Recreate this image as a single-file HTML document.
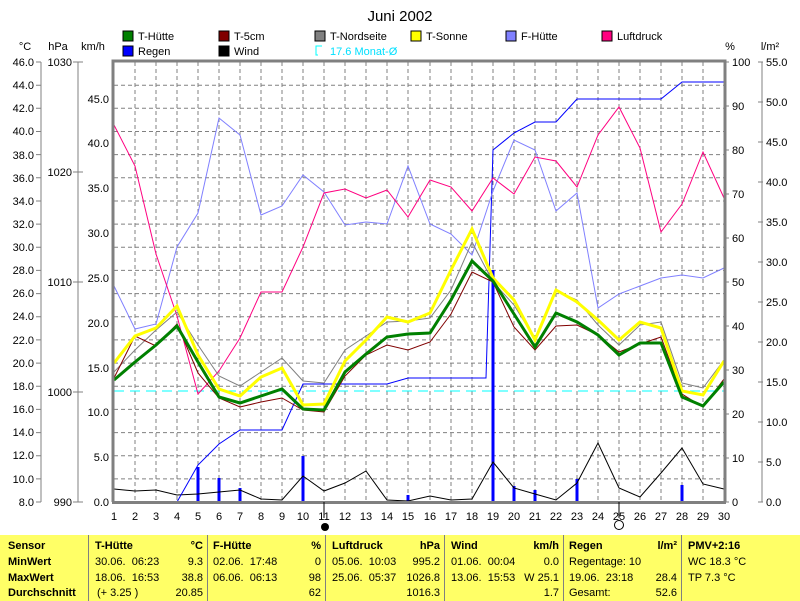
<!DOCTYPE html>
<html><head><meta charset="utf-8"><style>
html,body{margin:0;padding:0;background:#fff;}
body{width:800px;height:601px;position:relative;overflow:hidden;font-family:"Liberation Sans",sans-serif;}
svg{position:absolute;left:0;top:0;}
svg text{font-family:"Liberation Sans",sans-serif;font-size:11px;fill:#000;}
.tb{position:absolute;left:0;top:535px;width:800px;height:66px;background:#ffff66;font-size:11px;}
.tb div{position:absolute;white-space:pre;}
.b{font-weight:bold;}
.sep{width:1px;top:0;height:66px;background:#808080;}
</style></head><body>
<svg width="800" height="601" viewBox="0 0 800 601">
<text x="400" y="21" text-anchor="middle" style="font-size:15px">Juni 2002</text>
<!-- legend -->
<rect x="123" y="31" width="10" height="10" fill="#008000" stroke="#000"/><text x="138" y="40">T-Hütte</text>
<rect x="219" y="31" width="10" height="10" fill="#800000" stroke="#000"/><text x="234" y="40">T-5cm</text>
<rect x="315" y="31" width="10" height="10" fill="#808080" stroke="#000"/><text x="330" y="40">T-Nordseite</text>
<rect x="411" y="31" width="10" height="10" fill="#ffff00" stroke="#000"/><text x="426" y="40">T-Sonne</text>
<rect x="506" y="31" width="10" height="10" fill="#8080ff" stroke="#000"/><text x="521" y="40">F-Hütte</text>
<rect x="602" y="31" width="10" height="10" fill="#ff0080" stroke="#000"/><text x="617" y="40">Luftdruck</text>
<rect x="123" y="46" width="10" height="10" fill="#0000ff" stroke="#000"/><text x="138" y="55">Regen</text>
<rect x="219" y="46" width="10" height="10" fill="#000" stroke="#000"/><text x="234" y="55">Wind</text>
<path d="M322,46 h-6 v9 h2" fill="none" stroke="#00ffff"/><text x="330" y="55" style="fill:#00e0ff">17.6 Monat-Ø</text>
<text x="25" y="50" text-anchor="middle">°C</text>
<text x="58" y="50" text-anchor="middle">hPa</text>
<text x="93" y="50" text-anchor="middle">km/h</text>
<text x="730" y="50" text-anchor="middle">%</text>
<text x="770" y="50" text-anchor="middle">l/m²</text>
<!-- left axes -->
<g stroke="#808080" fill="none">
<line x1="41" y1="62" x2="41" y2="502"/>
<line x1="78" y1="62" x2="78" y2="502"/>
<line x1="762" y1="62" x2="762" y2="502"/>
</g>
<g text-anchor="end">
<text x="34" y="66">46.0</text><text x="34" y="89">44.0</text><text x="34" y="112">42.0</text><text x="34" y="135">40.0</text><text x="34" y="159">38.0</text><text x="34" y="182">36.0</text><text x="34" y="205">34.0</text><text x="34" y="228">32.0</text><text x="34" y="251">30.0</text><text x="34" y="274">28.0</text><text x="34" y="297">26.0</text><text x="34" y="320">24.0</text><text x="34" y="344">22.0</text><text x="34" y="367">20.0</text><text x="34" y="390">18.0</text><text x="34" y="413">16.0</text><text x="34" y="436">14.0</text><text x="34" y="459">12.0</text><text x="34" y="483">10.0</text><text x="34" y="506">8.0</text>
<text x="72" y="66">1030</text><text x="72" y="176">1020</text><text x="72" y="286">1010</text><text x="72" y="396">1000</text><text x="72" y="506">990</text>
<text x="109" y="103">45.0</text><text x="109" y="147">40.0</text><text x="109" y="192">35.0</text><text x="109" y="237">30.0</text><text x="109" y="282">25.0</text><text x="109" y="327">20.0</text><text x="109" y="372">15.0</text><text x="109" y="416">10.0</text><text x="109" y="461">5.0</text><text x="109" y="506">0.0</text>
</g>
<g stroke="#808080">
<path d="M36,62h5M36,85.2h5M36,108.3h5M36,131.5h5M36,154.6h5M36,177.8h5M36,201h5M36,224.1h5M36,247.3h5M36,270.4h5M36,293.6h5M36,316.8h5M36,339.9h5M36,363.1h5M36,386.2h5M36,409.4h5M36,432.6h5M36,455.7h5M36,478.9h5M36,502h5"/>
<path d="M73,62h10M73,172h10M73,282h10M73,392h10M73,502h10"/>
<path d="M724,62h5M724,106h5M724,150h5M724,194h5M724,238h5M724,282h5M724,326h5M724,370h5M724,414h5M724,458h5M724,502h5"/>
<path d="M758,62h5M758,102h5M758,142h5M758,182h5M758,222h5M758,262h5M758,302h5M758,342h5M758,382h5M758,422h5M758,462h5M758,502h5"/>
</g>
<g>
<text x="732" y="66">100</text><text x="732" y="110">90</text><text x="732" y="154">80</text><text x="732" y="198">70</text><text x="732" y="242">60</text><text x="732" y="286">50</text><text x="732" y="330">40</text><text x="732" y="374">30</text><text x="732" y="418">20</text><text x="732" y="462">10</text><text x="732" y="506">0</text>
<text x="766" y="66">55.0</text><text x="766" y="106">50.0</text><text x="766" y="146">45.0</text><text x="766" y="186">40.0</text><text x="766" y="226">35.0</text><text x="766" y="266">30.0</text><text x="766" y="306">25.0</text><text x="766" y="346">20.0</text><text x="766" y="386">15.0</text><text x="766" y="426">10.0</text><text x="766" y="466">5.0</text><text x="766" y="506">0.0</text>
</g>
<!-- grid -->
<g stroke="#808080" stroke-dasharray="4,3" fill="none">
<path d="M135,62V502M156,62V502M177,62V502M198,62V502M219,62V502M240,62V502M261,62V502M282,62V502M303,62V502M324,62V502M345,62V502M366,62V502M387,62V502M408,62V502M430,62V502M451,62V502M472,62V502M493,62V502M514,62V502M535,62V502M556,62V502M577,62V502M598,62V502M619,62V502M640,62V502M661,62V502M682,62V502M703,62V502"/>
<path d="M114,85.2H724M114,108.3H724M114,131.5H724M114,154.6H724M114,177.8H724M114,201H724M114,224.1H724M114,247.3H724M114,270.4H724M114,293.6H724M114,316.8H724M114,339.9H724M114,363.1H724M114,386.2H724M114,409.4H724M114,432.6H724M114,455.7H724M114,478.9H724"/>
</g>
<line x1="114" y1="391" x2="724" y2="391" stroke="#00ffff" stroke-dasharray="10,6"/>
<!-- rain bars -->
<g stroke="#0000ff" stroke-width="3">
<path d="M198,502V467M219,502V478M240,502V488M303,502V456M408,502V495M493,502V270M514,502V486M535,502V490M577,502V479M682,502V485"/>
</g>
<!-- wind -->
<polyline fill="none" stroke="#000" points="114,489 135,491 156,490 177,495 198,494 219,492 240,490 261,499 282,500 303,476 324,491 345,483 366,471 387,500 408,501 430,496 451,500 472,499 493,462 514,488 535,494 556,500 577,483 598,443 619,488 640,497 661,473 682,448 703,484 724,489"/>
<!-- rain cumulative -->
<polyline fill="none" stroke="#0000ff" points="177,502 198,465 219,444 240,430 261,430 282,430 303,384 324,384 345,384 366,384 387,384 408,378 430,378 451,378 472,378 486,378 493,150 514,133 535,122 556,122 577,99 598,99 619,99 640,99 661,99 682,82 703,82 724,82"/>
<!-- F-Hütte -->
<polyline fill="none" stroke="#8080ff" points="114,286 135,329 156,324 177,247 198,213 219,118 240,135 261,215 282,206 303,175 324,192 345,225 366,222 387,224 408,166 430,224 451,234 472,255 493,191 514,140 535,150 556,211 577,193 598,308 619,294 640,286 661,278 682,275 703,278 724,268"/>
<!-- Luftdruck -->
<polyline fill="none" stroke="#ff0080" points="114,125 135,166 156,254 177,316 198,394 219,371 240,338 261,292 282,292 303,247 324,193 345,189 366,198 387,190 408,217 430,180 451,187 472,211 493,178 514,194 535,157 556,161 577,187 598,135 619,107 640,148 661,232 682,204 703,152 724,198"/>
<!-- T-Nordseite -->
<polyline fill="none" stroke="#808080" points="114,372 135,350 156,330 177,312 198,345 219,376 240,386 261,372 282,358 303,381 324,383 345,350 366,336 387,322 408,321 430,318 451,290 472,242 493,282 514,305 535,339 556,291 577,300 598,325 619,345 640,325 661,322 682,383 703,388 724,360"/>
<!-- T-5cm -->
<polyline fill="none" stroke="#800000" points="114,378 135,336 156,346 177,324 198,373 219,398 240,407 261,402 282,398 303,410 324,412 345,376 366,355 387,345 408,350 430,342 451,314 472,272 493,282 514,327 535,350 556,326 577,325 598,335 619,352 640,344 661,337 682,394 703,407 724,379"/>
<!-- T-Sonne -->
<polyline fill="none" stroke="#ffff00" stroke-width="3" points="114,363 135,336 156,328 177,306 198,355 219,389 240,396 261,377 282,368 303,405 324,404 345,361 366,340 387,317 408,322 430,313 451,270 472,229 493,278 514,300 535,340 556,290 577,302 598,320 619,340 640,322 661,328 682,391 703,395 724,361"/>
<!-- T-Hütte -->
<polyline fill="none" stroke="#008000" stroke-width="3" points="114,380 135,362 156,345 177,326 198,362 219,397 240,403 261,396 282,389 303,409 324,410 345,372 366,354 387,337 408,334 430,333 451,300 472,261 493,281 514,314 535,347 556,313 577,322 598,335 619,355 640,343 661,343 682,397 703,406 724,382"/>
<!-- frame -->
<path d="M113,502V61H725V502" fill="none" stroke="#808080" stroke-width="3"/>
<line x1="112" y1="502.5" x2="726" y2="502.5" stroke="#808080" stroke-width="3"/>
<g stroke="#000"><path d="M324,502v16M619,502v16"/></g>
<circle cx="325" cy="527" r="4" fill="#000"/>
<circle cx="619" cy="525" r="4.5" fill="none" stroke="#000"/>
<g text-anchor="middle">
<text x="114" y="520">1</text><text x="135" y="520">2</text><text x="156" y="520">3</text><text x="177" y="520">4</text><text x="198" y="520">5</text><text x="219" y="520">6</text><text x="240" y="520">7</text><text x="261" y="520">8</text><text x="282" y="520">9</text><text x="303" y="520">10</text><text x="324" y="520">11</text><text x="345" y="520">12</text><text x="366" y="520">13</text><text x="387" y="520">14</text><text x="408" y="520">15</text><text x="430" y="520">16</text><text x="451" y="520">17</text><text x="472" y="520">18</text><text x="493" y="520">19</text><text x="514" y="520">20</text><text x="535" y="520">21</text><text x="556" y="520">22</text><text x="577" y="520">23</text><text x="598" y="520">24</text><text x="619" y="520">25</text><text x="640" y="520">26</text><text x="661" y="520">27</text><text x="682" y="520">28</text><text x="703" y="520">29</text><text x="724" y="520">30</text>
</g>
</svg>
<div class="tb">
<div class="sep" style="left:88px"></div><div class="sep" style="left:207px"></div><div class="sep" style="left:325px"></div><div class="sep" style="left:444px"></div><div class="sep" style="left:563px"></div><div class="sep" style="left:681px"></div>
<div class="b" style="left:8px;top:5px">Sensor</div>
<div class="b" style="left:8px;top:21px">MinWert</div>
<div class="b" style="left:8px;top:37px">MaxWert</div>
<div class="b" style="left:8px;top:52px">Durchschnitt</div>

<div class="b" style="left:95px;top:5px">T-Hütte</div><div class="b" style="right:597px;top:5px">°C</div>
<div style="left:95px;top:21px">30.06.  06:23</div><div style="right:597px;top:21px">9.3</div>
<div style="left:95px;top:37px">18.06.  16:53</div><div style="right:597px;top:37px">38.8</div>
<div style="left:97px;top:52px">(+ 3.25 )</div><div style="right:597px;top:52px">20.85</div>

<div class="b" style="left:213px;top:5px">F-Hütte</div><div class="b" style="right:479px;top:5px">%</div>
<div style="left:213px;top:21px">02.06.  17:48</div><div style="right:479px;top:21px">0</div>
<div style="left:213px;top:37px">06.06.  06:13</div><div style="right:479px;top:37px">98</div>
<div style="right:479px;top:52px">62</div>

<div class="b" style="left:332px;top:5px">Luftdruck</div><div class="b" style="right:360px;top:5px">hPa</div>
<div style="left:332px;top:21px">05.06.  10:03</div><div style="right:360px;top:21px">995.2</div>
<div style="left:332px;top:37px">25.06.  05:37</div><div style="right:360px;top:37px">1026.8</div>
<div style="right:360px;top:52px">1016.3</div>

<div class="b" style="left:451px;top:5px">Wind</div><div class="b" style="right:241px;top:5px">km/h</div>
<div style="left:451px;top:21px">01.06.  00:04</div><div style="right:241px;top:21px">0.0</div>
<div style="left:451px;top:37px">13.06.  15:53</div><div style="right:241px;top:37px">W 25.1</div>
<div style="right:241px;top:52px">1.7</div>

<div class="b" style="left:569px;top:5px">Regen</div><div class="b" style="right:123px;top:5px">l/m²</div>
<div style="left:569px;top:21px">Regentage: 10</div>
<div style="left:569px;top:37px">19.06.  23:18</div><div style="right:123px;top:37px">28.4</div>
<div style="left:569px;top:52px">Gesamt:</div><div style="right:123px;top:52px">52.6</div>

<div class="b" style="left:688px;top:5px">PMV+2:16</div>
<div style="left:688px;top:21px">WC 18.3 °C</div>
<div style="left:688px;top:37px">TP 7.3 °C</div>
</div>
</body></html>
